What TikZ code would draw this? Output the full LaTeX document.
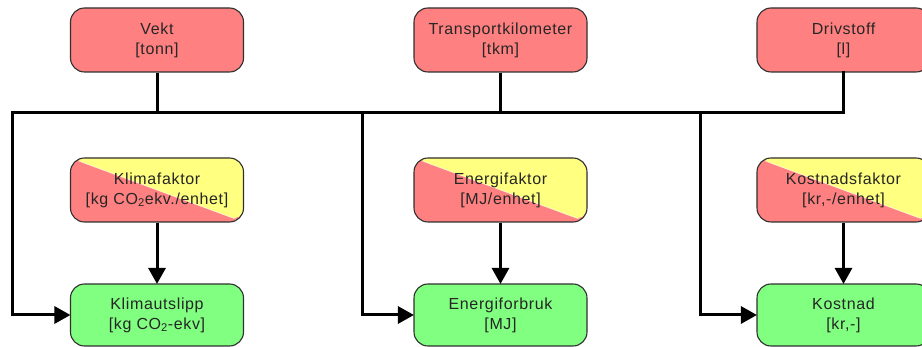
\documentclass[tikz,border=0pt]{standalone}
\usepackage{fontspec}
\setmainfont[LetterSpace=4]{Liberation Sans}
\usetikzlibrary{arrows.meta}
\definecolor{boxred}{HTML}{FF8080}
\definecolor{boxyellow}{HTML}{FFFF80}
\definecolor{boxgreen}{HTML}{80FF80}
\definecolor{boxline}{HTML}{303030}
\begin{document}
\begin{tikzpicture}[x=1pt,y=-1pt,
  basebox/.style={rectangle, rounded corners=14pt, draw=boxline, line width=1.1pt,
    minimum width=173pt, align=center, font=\fontsize{16}{20}\selectfont, text=black!85, inner sep=0pt},
  inbox/.style={basebox, fill=boxred, minimum height=64pt},
  factorbox/.style={basebox, fill=boxred, minimum height=64pt,
    path picture={\fill[boxyellow] (path picture bounding box.north west) -- (path picture bounding box.north east) -- (path picture bounding box.south east) -- cycle;
      \draw[white, line width=0.6pt, opacity=0.7] (path picture bounding box.north west) -- (path picture bounding box.south east);}},
  outbox/.style={basebox, fill=boxgreen, minimum height=62pt},
  conn/.style={line width=3pt, black},
  arr/.style={conn, -{Triangle[length=16pt,width=17pt]}, shorten >=-0.5pt}]
\useasboundingbox (0,0) rectangle (922,347);

\node[inbox] (vekt) at (157,40) {Vekt\\{[}tonn{]}};
\node[inbox] (tkm) at (500.5,40) {Transportkilometer\\{[}tkm{]}};
\node[inbox] (driv) at (843.5,40) {Drivstoff\\{[}l{]}};

\node[factorbox] (klimf) at (157,190) {Klimafaktor\\{[}kg CO\textsubscript{2}ekv./enhet{]}};
\node[factorbox] (energif) at (500.5,190) {Energifaktor\\{[}MJ/enhet{]}};
\node[factorbox] (kostf) at (843.5,190) {Kostnadsfaktor\\{[}kr,-/enhet{]}};

\node[outbox] (klimu) at (157,315) {Klimautslipp\\{[}kg CO\textsubscript{2}-ekv{]}};
\node[outbox] (energiu) at (500.5,315) {Energiforbruk\\{[}MJ{]}};
\node[outbox] (kostu) at (843.5,315) {Kostnad\\{[}kr,-{]}};

\coordinate (hl) at (12,113);
\coordinate (b2) at (362,113);
\coordinate (b3) at (700,113);

\draw[conn] (vekt.south) -- (vekt.south |- hl);
\draw[conn] (tkm.south) -- (tkm.south |- hl);
\draw[conn, line cap=rect] (driv.south) -- (driv.south |- hl) -- (hl);

\draw[arr] (hl) |- (klimu.west);
\draw[arr] (b2) |- (energiu.west);
\draw[arr] (b3) |- (kostu.west);

\draw[arr] (klimf.south) -- (klimu.north);
\draw[arr] (energif.south) -- (energiu.north);
\draw[arr] (kostf.south) -- (kostu.north);
\end{tikzpicture}
\end{document}
